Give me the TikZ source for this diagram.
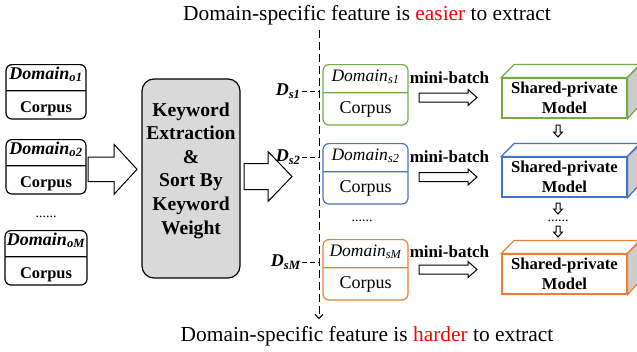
\documentclass[tikz,border=0pt]{standalone}
\usepackage{fontspec}
\setmainfont{Liberation Serif}
\usetikzlibrary{shapes.multipart,calc,arrows.meta}

\definecolor{dgreen}{RGB}{112,173,71}
\definecolor{dblue}{RGB}{68,114,196}
\definecolor{dorange}{RGB}{237,125,49}

\newcommand\setfs[2]{\fontsize{#1}{#2}\selectfont}
\newcommand\ltop{\rule[-11pt]{0pt}{25pt}}
\newcommand\lbot{\rule[-6pt]{0pt}{27pt}}
\newcommand\rtop{\rule[-11pt]{0pt}{27pt}}
\newcommand\rbot{\rule[-11pt]{0pt}{31pt}}
% open block arrow: start, end, shaft half width, head half width, head length
\newcommand\blockarrow[5]{%
  \coordinate (ba-s) at (#1);
  \coordinate (ba-e) at (#2);
  \coordinate (ba-h) at ($(ba-e)!#5!(ba-s)$);
  \draw[line join=miter] ($(ba-s)!#3!90:(ba-e)$) -- ($(ba-h)!#3!-90:(ba-s)$)
    -- ($(ba-h)!#4!-90:(ba-s)$) -- (ba-e) -- ($(ba-h)!#4!90:(ba-s)$)
    -- ($(ba-h)!#3!90:(ba-s)$) -- ($(ba-s)!#3!-90:(ba-e)$) -- cycle;}

\begin{document}
\begin{tikzpicture}[x=1pt,y=-1pt,line width=1pt,
  dombox/.style={rectangle split,rectangle split parts=2,draw,line width=1.2pt,
    rounded corners=6pt,minimum width=80pt,inner xsep=2pt,inner ysep=0pt,anchor=north},
  sbox/.style={dombox,minimum width=85pt,draw=#1},
  model/.style={draw=#1,line width=1.2pt,minimum width=125pt,minimum height=40pt,
    inner sep=0pt,align=center,font=\setfs{16.6}{20}\bfseries},
  dlabel/.style={anchor=east,inner sep=1pt,font=\setfs{18}{20}\bfseries\itshape},
  batch/.style={inner sep=0pt,font=\setfs{17}{20}\bfseries},
  dots/.style={anchor=base,inner sep=0pt,font=\setfs{14}{16}},
  caption/.style={anchor=base,inner sep=0pt,font=\setfs{21.4}{24}}]
\clip (0,0) rectangle (637,351);

\path node (top) at (367,20) [caption] {Domain-specific feature is {\color{red}easier} to extract}
node (bot) at (367,341) [caption] {Domain-specific feature is {\color{red}harder} to extract}
node (o1) at (46,64) [dombox] {\ltop\setfs{18}{20}\bfseries\itshape Domain\textsubscript{o1}\nodepart{two}\lbot\setfs{16.4}{20}\bfseries Corpus}
node (o2) at (46,139) [dombox] {\ltop\setfs{18}{20}\bfseries\itshape Domain\textsubscript{o2}\nodepart{two}\lbot\setfs{16.4}{20}\bfseries Corpus}
node (oM) at (46,230) [dombox] {\ltop\setfs{18}{20}\bfseries\itshape Domain\textsubscript{oM}\nodepart{two}\lbot\setfs{16.4}{20}\bfseries Corpus}
node (odots) at (46,217) [dots] {......}
node (kw) at (191,178.5) [draw,line width=1.2pt,fill=black!15,rounded corners=12pt,minimum width=98pt,minimum height=199pt] {}
node (kwtext) at (191,170.5) [align=center,inner sep=0pt,font=\setfs{19.6}{23.6}\bfseries] {Keyword\\Extraction\\\&\\Sort By\\Keyword\\Weight}
node (ds1) at (302,91) [dlabel] {D\textsubscript{s1}}
node (ds2) at (302,157) [dlabel] {D\textsubscript{s2}}
node (dsM) at (302,262) [dlabel] {D\textsubscript{sM}}
node (s1) at (365.5,64) [sbox=dgreen] {\rtop\setfs{17.5}{18}\itshape Domain\textsubscript{s1}\nodepart{two}\rbot\setfs{18}{20}Corpus}
node (s2) at (365.5,143) [sbox=dblue] {\rtop\setfs{17.5}{18}\itshape Domain\textsubscript{s2}\nodepart{two}\rbot\setfs{18}{20}Corpus}
node (sM) at (365.5,239) [sbox=dorange] {\rtop\setfs{17.5}{18}\itshape Domain\textsubscript{sM}\nodepart{two}\rbot\setfs{18}{20}Corpus}
node (sdots) at (362,221) [dots] {......}
node (mb1) at (449.5,78) [batch] {mini-batch}
node (mb2) at (449.5,157) [batch] {mini-batch}
node (mb3) at (449.5,252) [batch] {mini-batch}
node (m1) at (564.5,98) [model=dgreen] {Shared-private\\Model}
node (m2) at (564.5,177) [model=dblue] {Shared-private\\Model}
node (m3) at (564.5,274) [model=dorange] {Shared-private\\Model}
node (mdots) at (558,221) [dots] {......};

\foreach \m/\c in {m1/dgreen,m2/dblue,m3/dorange}{
  \draw[\c,line width=1.2pt,fill=white] (\m.north west) -- ++(13,-13) -- ++(125,0) -- (\m.north east) -- cycle;
  \draw[\c,line width=1.2pt,fill=black!20] (\m.north east) -- ++(13,-13) -- ++(0,40) -- (\m.south east) -- cycle;
}

\coordinate (vtop) at (319,30);
\coordinate (vbot) at (319,319);
\draw[dash pattern=on 8pt off 4pt,-{Straight Barb[length=4pt,width=8pt]}] (vtop) -- (vbot);
\foreach \d in {ds1,ds2,dsM}
  \draw[dash pattern=on 5pt off 3pt] (\d.east) -- (\d.east -| vtop);

\blockarrow{88,169.3}{137,169.3}{12.2pt}{25pt}{23pt}
\blockarrow{244,176.5}{292,176.5}{13pt}{25pt}{24pt}
\blockarrow{419,97.5}{477,97.5}{4.5pt}{8pt}{9pt}
\blockarrow{419,177}{477,177}{4.5pt}{8pt}{9pt}
\blockarrow{419,269.5}{477,269.5}{4.5pt}{8pt}{9pt}
\blockarrow{558,125}{558,137}{2pt}{4.5pt}{5pt}
\blockarrow{558,203}{558,214}{2pt}{4.5pt}{5pt}
\blockarrow{558,226}{558,237}{2pt}{4.5pt}{5pt}
\end{tikzpicture}
\end{document}
